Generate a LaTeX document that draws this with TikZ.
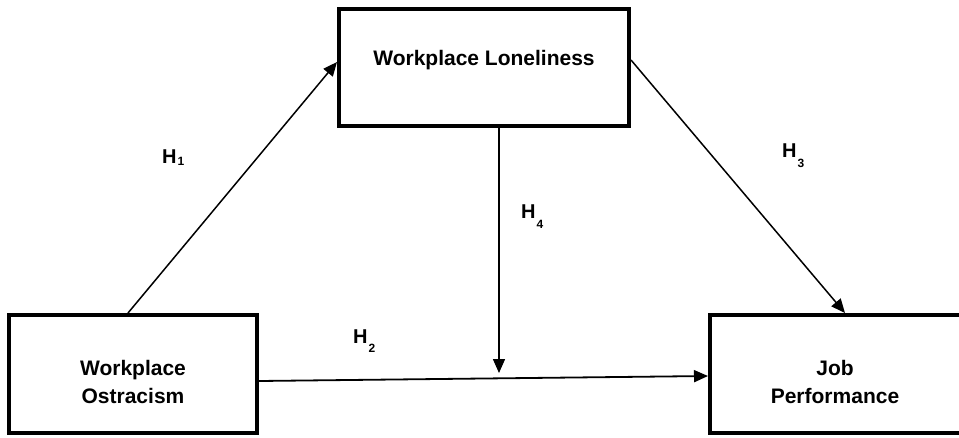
\documentclass[tikz,border=0pt]{standalone}
\usepackage{fontspec}
\setmainfont{Liberation Sans}
\usetikzlibrary{arrows.meta}
\newcommand\hsubtxt[2]{\raisebox{#1}{\kern1pt\fontsize{12}{12}\selectfont #2}}
\begin{document}
\begin{tikzpicture}[x=1pt,y=-1pt,
  box/.style={draw=black, line width=4pt, fill=white, inner sep=0pt},
  boxtext/.style={font=\fontsize{21}{28}\selectfont\bfseries, align=center, inner sep=0pt},
  arr/.style={line width=1.5pt, -{Triangle[length=14pt,width=12pt]}},
  hl/.style={font=\fontsize{20}{20}\selectfont\bfseries, inner sep=0pt, anchor=base west}]
\useasboundingbox (0,0) rectangle (959,437);
\fill[white] (0,0) rectangle (959,437);

\node[box, minimum width=290pt, minimum height=117pt,
      label={[boxtext, name=lontxt, yshift=7.8pt]center:Workplace Loneliness}] (lon) at (484,67.5) {};
\node[box, minimum width=248pt, minimum height=118pt,
      label={[boxtext, name=ostxt, yshift=-7.5pt]center:Workplace\\Ostracism}] (os) at (133,374) {};
\node[box, minimum width=252pt, minimum height=118pt,
      label={[boxtext, name=jptxt, xshift=-1pt, yshift=-7.5pt]center:Job\\Performance}] (jp) at (836,374) {};

\coordinate (h4end) at (499,373);

\draw[arr] ([xshift=-5pt]os.north) -- ([yshift=5.5pt]lon.west);
\draw[arr] ([yshift=7.5pt]lon.east) -- ([xshift=9pt]jp.north);
\draw[arr] ([xshift=15pt]lon.south) -- (h4end);
\draw[arr, line width=1.8pt] ([yshift=-7pt]os.east) -- ([yshift=-2pt]jp.west);

\node[hl] (h1) at (162,163) {H\hsubtxt{-2pt}{1}};
\node[hl] (h3) at (782,157) {H\hsubtxt{-10pt}{3}};
\node[hl] (h4) at (521,218) {H\hsubtxt{-10pt}{4}};
\node[hl] (h2) at (353,343) {H\hsubtxt{-9pt}{2}};
\end{tikzpicture}
\end{document}
